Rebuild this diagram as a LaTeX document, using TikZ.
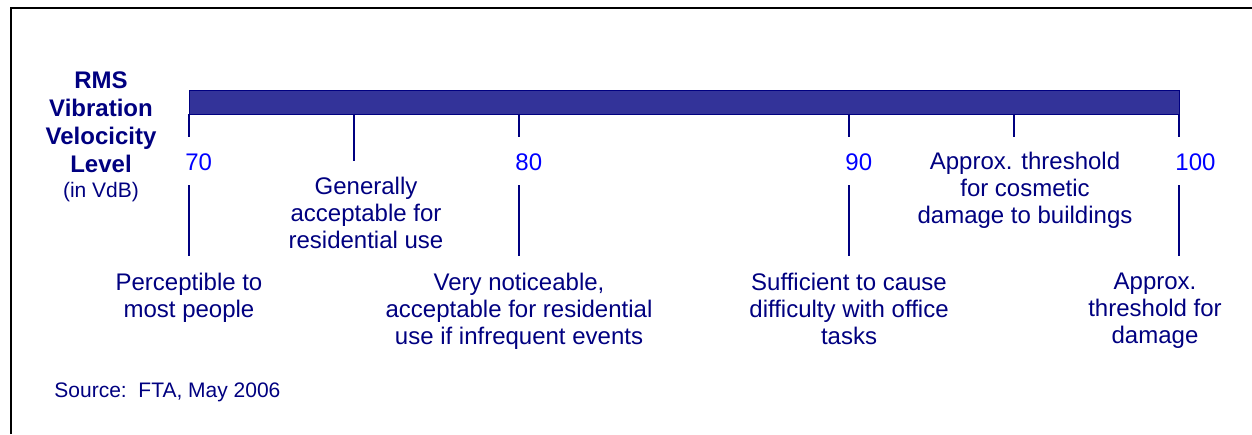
\documentclass[tikz,border=0pt]{standalone}
\usepackage{fontspec}
\setmainfont{Liberation Sans}
\usepackage{tikz}

\definecolor{navytext}{RGB}{0,0,128}
\definecolor{barfill}{RGB}{51,51,153}
\definecolor{scaleblue}{RGB}{0,0,255}

\begin{document}
\begin{tikzpicture}[x=0.5pt,y=-0.5pt]
\tikzset{label/.style = {inner sep=0,text=navytext,align=center,font=\fontsize{12}{13.5}\selectfont}}
\tikzset{number/.style = {inner sep=0,text=scaleblue,font=\fontsize{12}{13.5}\selectfont}}
\tikzset{tick/.style = {draw=navytext,line width=0.85pt}}
\useasboundingbox (0,0) rectangle (1252,434);
\draw[line width=1pt] (11,434) |- (1252,8);
% the scale bar
\node[draw=navytext,fill=barfill,line width=0.5pt,minimum width=495pt,minimum height=12pt,inner sep=0,anchor=north west](bar) at (189,89.5) {};
\node[label,font=\bfseries\fontsize{12}{14}\selectfont,anchor=north](title) at (101,71) {RMS\\Vibration\\Velocicity\\Level};
\node[label,font=\fontsize{10.5}{12}\selectfont,anchor=base](unit) at (101,197) {(in VdB)};
% numbered ticks
\foreach \v/\x in {70/189,80/519,90/849,100/1179} {
  \coordinate (a\v) at (\x,113.5);
  \coordinate (b\v) at (\x,137);
  \coordinate (c\v) at (\x,185);
  \coordinate (d\v) at (\x,256);
  \node[number,anchor=base west](n\v) at (\x-4,170) {\v};
  \draw[tick] (a\v) -- (b\v);
  \draw[tick] (c\v) -- (d\v);
}
% ticks in between
\coordinate (a75) at (354,113.5);
\coordinate (b75) at (354,161);
\coordinate (a95) at (1014,113.5);
\coordinate (b95) at (1014,137);
\draw[tick] (a75) -- (b75);
\draw[tick] (a95) -- (b95);
% labels
\node[label,anchor=north](gen) at (366,177) {Generally\\acceptable for\\residential use};
\node[label,anchor=north](cosm) at (1025,152) {Approx. threshold\\for cosmetic\\damage to buildings};
\node[label,anchor=north](perc) at (189,273) {Perceptible to\\most people};
\node[label,anchor=north](very) at (519,273) {Very noticeable,\\acceptable for residential\\use if infrequent events};
\node[label,anchor=north](suff) at (849,273) {Sufficient to cause\\difficulty with office\\tasks};
\node[label,anchor=north](dmg) at (1155,273) {Approx.\\threshold for\\damage};
\node[label,font=\fontsize{10.5}{12}\selectfont,anchor=base west](src) at (54,397) {Source:\ \ FTA, May 2006};
\end{tikzpicture}
\end{document}
